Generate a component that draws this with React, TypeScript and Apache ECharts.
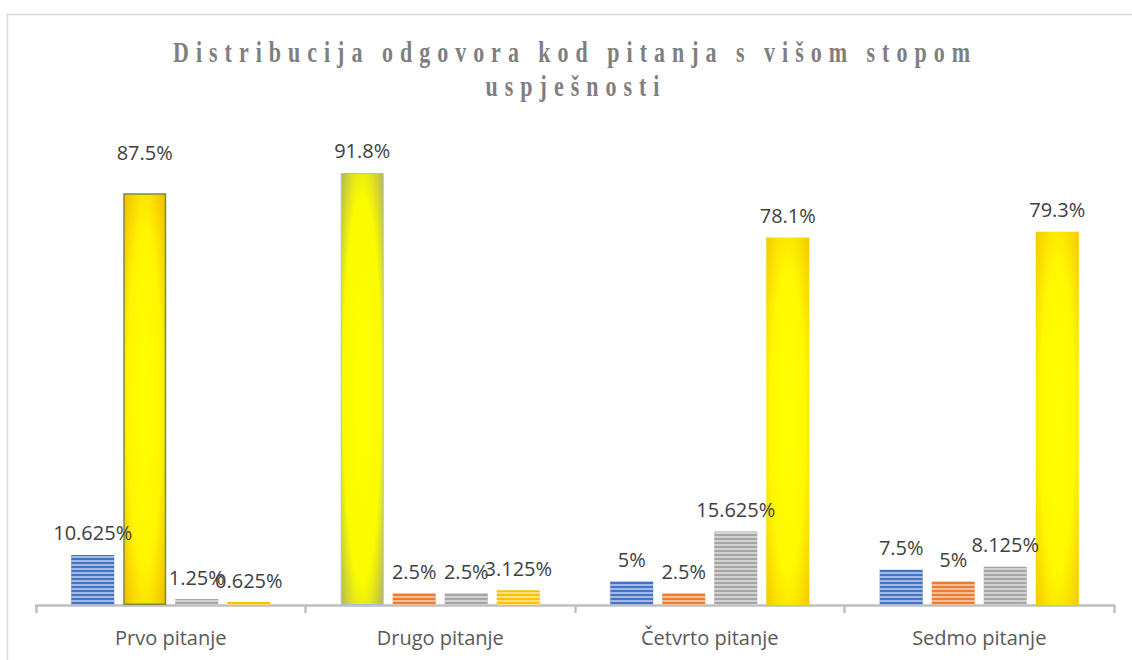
import React, { useEffect, useRef } from "react";
import * as echarts from "echarts";

const categories = ["Prvo pitanje", "Drugo pitanje", "Četvrto pitanje", "Sedmo pitanje"];
const seriesA = [10.625, 91.8, 5, 7.5];
const seriesB = [87.5, 2.5, 2.5, 5];
const seriesC = [1.25, 2.5, 15.625, 8.125];
const seriesD = [0.625, 3.125, 78.1, 79.3];
// index of the series that holds the highlighted (correct) answer, per category
const correctIndex = [1, 0, 3, 3];
const titleLines = ["Distribucija odgovora kod pitanja s višom stopom", "uspješnosti"];

const baseColors = ["#4472c4", "#ed7d31", "#a5a5a5", "#ffc000"];
const sansFont = "'Open Sans', 'Noto Sans', sans-serif";

function highlightStyle(cat: number) {
  if (cat === 0) {
    return {
      color: new echarts.graphic.RadialGradient(0.5, 0.5, 0.75, [
        { offset: 0, color: "#ffff00" },
        { offset: 0.55, color: "#fff500" },
        { offset: 1, color: "#f2b000" },
      ]),
      borderColor: "#72913a",
      borderWidth: 1.5,
      decal: "none",
    };
  }
  if (cat === 1) {
    return {
      color: new echarts.graphic.RadialGradient(0.5, 0.5, 0.75, [
        { offset: 0, color: "#ffff00" },
        { offset: 0.6, color: "#fbfb00" },
        { offset: 1, color: "#a6ab62" },
      ]),
      borderColor: "#a9bde0",
      borderWidth: 1,
      decal: "none",
    };
  }
  return {
    color: new echarts.graphic.RadialGradient(0.5, 0.5, 0.75, [
      { offset: 0, color: "#ffff00" },
      { offset: 0.55, color: "#fff800" },
      { offset: 1, color: "#f4c000" },
    ]),
    borderWidth: 0,
    decal: "none",
  };
}

function buildSeries(values: number[], sIdx: number) {
  return {
    type: "bar",
    name: "s" + sIdx,
    barWidth: 43,
    barGap: "21%",
    data: values.map((v, cat) => {
      if (correctIndex[cat] !== sIdx) return { value: v };
      const item: any = { value: v, itemStyle: highlightStyle(cat) };
      if (cat === 0) item.label = { distance: 31 };
      return item;
    }),
    itemStyle: {
      color: baseColors[sIdx],
      decal: {
        symbol: "rect",
        symbolSize: 1,
        dashArrayX: [1, 0],
        dashArrayY: [2, 2],
        color: "rgba(255,255,255,0.5)",
        rotation: 0,
      },
    },
    label: {
      show: true,
      position: "top",
      distance: 12,
      formatter: (p: any) => p.value + "%",
      color: "#404040",
      fontSize: 20,
      fontFamily: sansFont,
    },
  };
}

export default function App() {
  const ref = useRef<HTMLDivElement>(null);
  useEffect(() => {
    if (!ref.current) return;
    const chart = echarts.init(ref.current, undefined, { renderer: "svg" });
    const applySpacing = () => {
      const root = ref.current;
      if (!root) return;
      root.querySelectorAll("text").forEach((t) => {
        const c = t.textContent || "";
        if (titleLines.includes(c)) {
          (t as SVGTextElement).style.letterSpacing = "7px";
        }
      });
    };
    chart.on("finished", applySpacing);
    chart.setOption({
      animation: false,
      grid: { left: 36, right: 18, top: 134.4, bottom: 55, containLabel: false },
      graphic: [
        {
          type: "rect",
          shape: { x: 7.5, y: 14.5, width: 1140, height: 700 },
          style: { fill: "none", stroke: "#d9d9d9", lineWidth: 1.5 },
          silent: true,
        },
        {
          type: "text",
          x: 575,
          y: 52,
          scaleY: 1.3,
          style: {
            text: titleLines[0],
            font: "bold 22px 'Liberation Serif', 'Times New Roman', serif",
            fill: "#7f7f7f",
            textAlign: "center",
            textVerticalAlign: "middle",
          },
        },
        {
          type: "text",
          x: 576,
          y: 86,
          scaleY: 1.3,
          style: {
            text: titleLines[1],
            font: "bold 22px 'Liberation Serif', 'Times New Roman', serif",
            fill: "#7f7f7f",
            textAlign: "center",
            textVerticalAlign: "middle",
          },
        },
      ],
      xAxis: {
        type: "category",
        data: categories,
        axisLine: { show: true, lineStyle: { color: "#bfbfbf", width: 2.5 } },
        axisTick: { show: true, alignWithLabel: false, length: 8, lineStyle: { color: "#bfbfbf", width: 2.5 } },
        axisLabel: {
          color: "#595959",
          fontSize: 20,
          fontFamily: sansFont,
          margin: 22,
        },
      },
      yAxis: {
        type: "value",
        min: 0,
        max: 100,
        show: false,
        splitLine: { show: false },
      },
      series: [
        buildSeries(seriesA, 0),
        buildSeries(seriesB, 1),
        buildSeries(seriesC, 2),
        buildSeries(seriesD, 3),
      ],
    });
    applySpacing();
    const t = setTimeout(applySpacing, 50);
    return () => {
      clearTimeout(t);
      chart.dispose();
    };
  }, []);
  return (
    <div
      ref={ref}
      style={{ position: "absolute", left: 0, top: 0, width: 1132, height: 660, background: "#fff" }}
    />
  );
}
